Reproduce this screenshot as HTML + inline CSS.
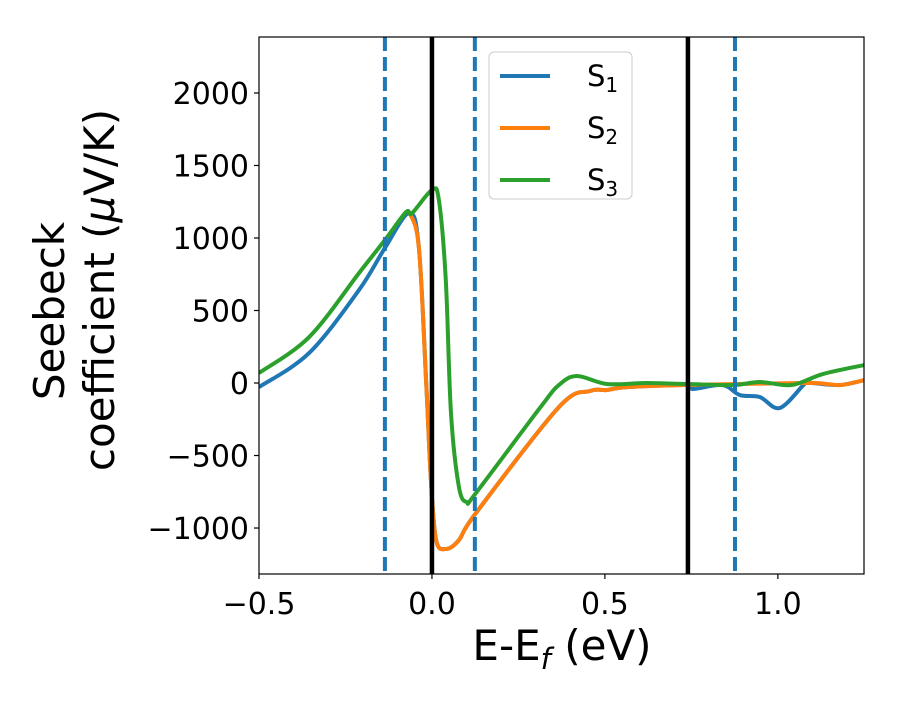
<!DOCTYPE html>
<html><head><meta charset="utf-8"><style>
body{margin:0;background:#fff;}
svg text{font-family:"DejaVu Sans","Liberation Sans",sans-serif;fill:#000;}
</style></head><body>
<svg id="chart" width="900" height="700" xmlns="http://www.w3.org/2000/svg">
<g id="marks"></g>
<g id="axes"></g>
</svg>
<script>
const xTicks=[-0.5,0.0,0.5,1.0];
const xTickLabels=["\u22120.5","0.0","0.5","1.0"];
const yTicks=[-1000,-500,0,500,1000,1500,2000];
const yTickLabels=["\u22121000","\u2212500","0","500","1000","1500","2000"];
const solidLines=[0,0.74];
const dashedLines=[-0.136,0.124,0.876];
const s1X=[-0.5,-0.355,-0.211,-0.136,-0.066,-0.038,-0.017,-0.003,0.012,0.04,0.078,0.127,0.367,0.457,0.506,0.564,0.737,0.755,0.84,0.89,0.948,1.006,1.08,1.10,1.18,1.25];
const s1Y=[-28,207,641,931,1172,938,20,-670,-1083,-1145,-1083,-897,-166,-55,-48,-28,-14,-41,-14,-83,-97,-172,0,0,-14,20];
const s2X=[-0.064,-0.038,-0.017,-0.003,0.012,0.04,0.078,0.127,0.367,0.457,0.506,0.564,0.737,0.89,1.10,1.18,1.25];
const s2Y=[1172,938,20,-670,-1083,-1145,-1083,-897,-166,-55,-48,-28,-14,-7,0,-14,20];
const s3X=[-0.5,-0.355,-0.211,-0.136,-0.075,-0.058,0,0.02,0.04,0.055,0.078,0.101,0.127,0.312,0.367,0.419,0.506,0.62,0.737,0.87,0.948,1.04,1.13,1.25];
const s3Y=[69,317,758,986,1179,1170,1331,1262,710,-207,-717,-821,-759,-172,-14,48,-7,0,-7,-14,7,-14,62,124];
const L=259,R=864,T=37,B=574,xmin=-0.5,xmax=1.249,ymin=-1317,ymax=2386;
const X=v=>L+(v-xmin)/(xmax-xmin)*(R-L);
const Y=v=>B-(v-ymin)/(ymax-ymin)*(B-T);
const NS="http://www.w3.org/2000/svg";
const marks=document.getElementById('marks'),axes=document.getElementById('axes');
function mk(tag,attrs,parent){const e=document.createElementNS(NS,tag);for(const k in attrs)e.setAttribute(k,attrs[k]);parent.appendChild(e);return e;}
function path(xs,ys){const p=xs.map((x,i)=>[X(x),Y(ys[i])]);let d=`M${p[0][0]},${p[0][1]}`;
for(let i=0;i<p.length-1;i++){const p0=p[i-1]||p[i],p1=p[i],p2=p[i+1],p3=p[i+2]||p2;
d+=` C${p1[0]+(p2[0]-p0[0])/6},${p1[1]+(p2[1]-p0[1])/6} ${p2[0]-(p3[0]-p1[0])/6},${p2[1]-(p3[1]-p1[1])/6} ${p2[0]},${p2[1]}`;}return d;}
mk('clipPath',{id:'clip'},marks);
mk('rect',{x:L,y:T,width:R-L,height:B-T},document.getElementById('clip'));
const g=mk('g',{'clip-path':'url(#clip)'},marks);
const series=[[s1X,s1Y,'#1f77b4','series-s1'],[s2X,s2Y,'#ff7f0e','series-s2'],[s3X,s3Y,'#2ca02c','series-s3']];
series.forEach(s=>{const e=mk('path',{d:path(s[0],s[1]),fill:'none',stroke:s[2],'stroke-width':4,'stroke-linejoin':'round'},g);

});
solidLines.forEach(v=>{const e=mk('line',{x1:X(v),x2:X(v),y1:T,y2:B,stroke:'#000','stroke-width':4.5},g);

});
dashedLines.forEach(v=>{const e=mk('line',{x1:X(v),x2:X(v),y1:T,y2:B,stroke:'#1f77b4','stroke-width':4,'stroke-dasharray':'14,6'},g);

});
const frame=mk('rect',{x:L,y:T,width:R-L,height:B-T,fill:'none',stroke:'#000','stroke-width':1.2},axes);


xTicks.forEach((v,i)=>{mk('line',{x1:X(v),x2:X(v),y1:B,y2:B+5,stroke:'#000','stroke-width':1.2},axes);
const t=mk('text',{x:X(v),y:B+40,'text-anchor':'middle','font-size':30},axes);t.textContent=xTickLabels[i];

});
yTicks.forEach((v,i)=>{mk('line',{x1:L-5,x2:L,y1:Y(v),y2:Y(v),stroke:'#000','stroke-width':1.2},axes);
const t=mk('text',{x:L-10,y:Y(v)+11,'text-anchor':'end','font-size':30},axes);t.textContent=yTickLabels[i];

});
</script>
<svg width="900" height="700" style="position:absolute;left:0;top:0" xmlns="http://www.w3.org/2000/svg">
<text x="562" y="660" text-anchor="middle" font-size="42" font-family="DejaVu Sans,sans-serif">E-E<tspan font-style="italic" font-size="29" dy="9">f</tspan><tspan dy="-9"> (eV)</tspan></text>
<g font-size="42" font-family="DejaVu Sans,sans-serif">
<text transform="translate(64,311) rotate(-90)" text-anchor="middle">Seebeck</text>
<text transform="translate(114,290) rotate(-90)" text-anchor="middle">coefficient  (<tspan font-style="italic">μ</tspan>V/K)</text>
</g>
<g>
<rect x="489" y="52" width="143" height="147" rx="5" fill="#fff" fill-opacity="0.8" stroke="#ccc"/>
<line x1="500" x2="550" y1="76" y2="76" stroke="#1f77b4" stroke-width="4"/>
<line x1="500" x2="550" y1="128" y2="128" stroke="#ff7f0e" stroke-width="4"/>
<line x1="500" x2="550" y1="180" y2="180" stroke="#2ca02c" stroke-width="4"/>
<text x="587" y="86" font-size="29" font-family="DejaVu Sans,sans-serif">S<tspan font-size="20" dy="6">1</tspan></text>
<text x="587" y="138" font-size="29" font-family="DejaVu Sans,sans-serif">S<tspan font-size="20" dy="6">2</tspan></text>
<text x="587" y="190" font-size="29" font-family="DejaVu Sans,sans-serif">S<tspan font-size="20" dy="6">3</tspan></text>
</g>
</svg>
</body></html>
